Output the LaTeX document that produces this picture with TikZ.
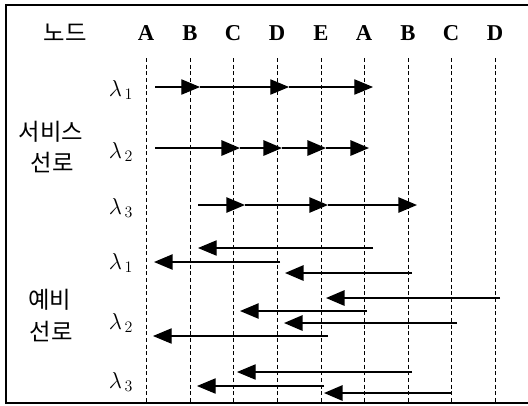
\documentclass[tikz,border=0pt]{standalone}
\usepackage{fontspec}
\setmainfont{Liberation Serif}
\newfontfamily\kofont{Noto Sans CJK KR}
\usetikzlibrary{arrows.meta}

\begin{document}
\begin{tikzpicture}[x=0.75pt,y=-0.75pt,
    hdr/.style={font=\fontsize{17}{20}\selectfont\bfseries},
    ko/.style={font=\kofont\fontsize{17.5}{20}\selectfont},
    lam/.style={font=\fontsize{17}{20}\selectfont},
    gridln/.style={densely dashed,line width=0.6pt},
    work/.style={-{Triangle[length=14pt,width=11.5pt]},line width=0.8pt},
    wide/.style={work,line width=1.6pt}]
  \useasboundingbox (0,0) rectangle (528,405);
  % frame
  \draw[line width=0.8pt] (528,5) -- (6,5) -- (6,403) -- (528,403);
  % node columns
  \node[ko] (nd) at (65,33) {노드};
  \foreach \lab/\x [count=\i] in {A/146,B/190,C/233,D/277,E/321,A/364,B/408,C/451,D/495}
  {
    \node[hdr] (h\i) at (\x,33) {\lab};
    \draw[gridln] (\x,58) -- (\x,403);
  }
  % row labels
  \node[ko] (svc) at (51,132) {서비스};
  \node[ko] (svl) at (52,163) {선로};
  \node[ko] (bk)  at (50,300) {예비};
  \node[ko] (bkl) at (51,332) {선로};
  \foreach \n/\y in {1/90,2/152,3/208}
    \node[lam] (s\n) at (121,\y) {$\lambda_{\,\n}$};
  \foreach \n/\y in {1/263,2/323,3/382}
    \node[lam] (b\n) at (121,\y) {$\lambda_{\,\n}$};
  % service path
  \foreach \a/\b in {155/200,200/289,289/373}
    \draw[work] (\a,87) -- (\b,87);
  \foreach \a/\b in {155/240,240/282,282/326,326/369}
    \draw[wide] (\a,148) -- (\b,148);
  \foreach \a/\b in {198/245,245/328,328/417}
    \draw[work,line width=1.2pt] (\a,205) -- (\b,205);
  % backup path
  \draw[work] (373,248) -- (198,248);
  \draw[work,line width=1.1pt] (280,262) -- (154,262);
  \draw[wide] (412,273) -- (285,273);
  \draw[wide] (500,298) -- (326,298);
  \draw[work,line width=1.1pt] (367,311) -- (240,311);
  \draw[wide] (457,323) -- (284,323);
  \draw[work] (328,336) -- (153,336);
  \draw[work] (412,372) -- (237,372);
  \draw[work] (324,386) -- (197,386);
  \draw[wide] (451,393) -- (324,393);
\end{tikzpicture}
\end{document}
